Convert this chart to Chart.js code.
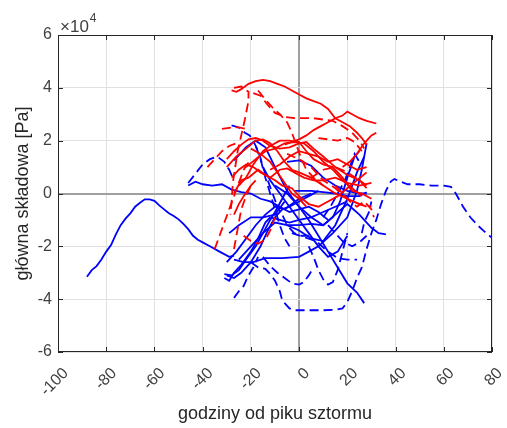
<!DOCTYPE html>
<html>
<head>
<meta charset="utf-8">
<script src="https://cdn.jsdelivr.net/npm/chart.js@4/dist/chart.umd.min.js"></script>
<style>
  html, body { margin: 0; padding: 0; background: #fff; }
</style>
</head>
<body>
<canvas id="chart" width="507" height="428"></canvas>
<script>
"use strict";

// axis ticks (x in hours, y in units of 10^4 Pa)
const xTicks = [-100, -80, -60, -40, -20, 0, 20, 40, 60, 80];
const yTicks = [-6, -4, -2, 0, 2, 4, 6];
const yExponent = 4;

// storm tracks, each one a list of [hour, value / 10^4 Pa]
const redSolid = [
    [[-28,3.9],[-26,3.85],[-24,3.95],[-21,4.15],[-18,4.25],[-15,4.3],[-12,4.25],[-9,4.15],[-6,4.05],[-3,3.9],[0,3.75],[3,3.6],[6,3.5],[9,3.4],[12,3.2],[15,2.85],[18,2.7],[21,2.55],[24,2.3],[26,2.1],[28,1.85]],
    [[-6,1.85],[-3,1.95],[0,2.05],[3,2.2],[6,2.4],[9,2.55],[12,2.7],[15,2.85],[18,2.95],[20,3.1],[22,3.0],[25,2.85],[28,2.75],[32,2.65]],
    [[18,1.0],[21,1.2],[24,1.5],[27,1.9],[30,2.2],[32,2.3]],
    [[-30,1.3],[-27,1.6],[-24,1.85],[-21,2.05],[-18,2.1],[-15,2.0],[-12,1.8],[-8,1.7],[-4,1.75],[0,1.9],[3,1.95],[6,1.7],[10,1.4],[15,1.0],[20,0.7],[25,0.5],[28,0.3]],
    [[-30,1.0],[-26,1.4],[-22,1.7],[-18,2.0],[-15,2.05],[-12,1.9],[-9,1.6],[-6,1.2],[-3,0.9],[0,0.8],[5,0.6],[10,0.3],[15,0.0],[20,-0.2],[25,-0.4],[28,-0.5]],
    [[-28,0.6],[-25,0.9],[-22,1.1],[-19,1.0],[-16,0.8],[-12,0.6],[-8,0.9],[-5,0.95],[-2,0.8],[2,0.6],[6,0.5],[10,0.5],[15,0.6],[20,0.4],[25,0.3],[30,0.4]],
    [[-25,0.3],[-22,0.6],[-19,1.1],[-15,1.6],[-12,1.8],[-8,2.0],[-4,2.0],[0,1.95],[3,1.6],[6,1.3],[10,1.1],[14,1.0],[18,0.6],[22,0.1],[26,0.0],[30,-0.2]],
    [[-27,0.0],[-24,0.5],[-21,0.6],[-17,0.9],[-14,0.7],[-10,0.5],[-7,0.3],[-3,0.2],[0,-0.1],[4,-0.4],[8,-0.5],[12,-0.3],[16,-0.1],[20,0.2],[24,0.5],[28,0.8]],
    [[-12,0.9],[-8,1.1],[-4,1.4],[0,1.6],[4,1.5],[8,1.4],[12,1.2],[16,1.3],[20,1.1],[24,0.9],[28,1.0]],
    [[-20,1.7],[-16,1.5],[-12,1.2],[-9,0.8],[-6,0.4],[-3,0.0],[0,-0.2],[3,-0.5]],
    [[-27,-0.8],[-25,-0.4],[-23,-0.1],[-20,0.3],[-18,0.5]],
    [[-22,1.0],[-18,1.3],[-14,1.6],[-10,1.7],[-6,1.9],[-2,1.95],[2,1.9],[6,1.6],[10,1.2],[14,0.9],[18,0.5],[22,0.2],[26,-0.1]]
];

const redDashed = [
    [[-32,2.45],[-28,2.5],[-25,2.5],[-22,2.45]],
    [[-27,4.0],[-24,4.05],[-21,3.85],[-21,3.5],[-22.5,2.8],[-24,2.2],[-25.5,1.6],[-26.5,1.0],[-27.5,0.4],[-28,-0.3],[-28.5,-0.8]],
    [[-17,3.9],[-14,3.55],[-11,3.25],[-8,3.0],[-5,2.7],[-3,2.3],[-1,1.8],[1,1.3],[3,0.9],[6,0.6],[10,0.3]],
    [[-19,3.8],[-16,3.7],[-13,3.35],[-10,3.05],[-6,2.9],[-2,2.85],[2,2.85],[6,2.85],[10,2.8],[14,2.75],[18,2.55],[22,2.3],[25,2.0],[27,1.7]],
    [[-35,-2.1],[-33,-1.6],[-31,-1.1],[-29,-0.6],[-27,-0.1],[-25,0.4],[-23,0.9],[-20,1.3]],
    [[-27,-2.1],[-26,-1.6],[-25,-1.1],[-24,-0.6],[-22,-0.1],[-20,0.3]],
    [[-23,-1.6],[-20,-1.8],[-17,-1.9],[-14,-1.75],[-12,-1.4],[-10,-0.9]],
    [[5,0.6],[10,0.9],[15,1.0],[20,0.8],[25,0.5],[28,0.2]],
    [[-5,1.5],[0,1.3],[5,1.0],[10,0.5],[15,0.2],[20,-0.2],[25,-0.4],[30,-0.5]],
    [[8,2.1],[12,2.05],[16,2.0],[20,2.1],[23,1.95],[26,1.6]],
    [[-38,1.0],[-35,1.3],[-32,1.6],[-29,1.8],[-26,1.9]],
    [[15,0.3],[18,0.0],[21,-0.3],[24,-0.5],[27,-0.3],[30,-0.6],[31,-0.9]]
];

const blueSolid = [
    [[-88,-3.15],[-86,-2.9],[-84,-2.75],[-82,-2.5],[-80,-2.2],[-78,-1.95],[-76,-1.55],[-74,-1.2],[-72,-0.95],[-70,-0.75],[-68,-0.5],[-66,-0.35],[-64,-0.22],[-62,-0.22],[-60,-0.28],[-58,-0.45],[-56,-0.6],[-54,-0.75],[-52,-0.85],[-50,-0.98],[-48,-1.15],[-46,-1.35],[-44,-1.6],[-42,-1.75],[-40,-1.85],[-37,-2.0],[-33,-2.2],[-29,-2.4],[-27,-2.35]],
    [[-46,0.3],[-43,0.45],[-40,0.35],[-36,0.3],[-32,0.35],[-28,0.15],[-24,0.05],[-20,0.0],[-16,-0.2],[-12,-0.3],[-8,-0.5],[-4,-0.7],[0,-0.6],[4,-0.5],[8,-0.7],[12,-1.0]],
    [[-27,-2.5],[-23,-2.6],[-19,-2.6],[-14,-2.45],[-7,-2.45],[0,-2.4],[4,-2.2],[8,-2.0],[14,-1.5],[20,-0.9],[24,0.1],[26,0.9],[28,1.9]],
    [[-27,1.25],[-22,1.75],[-18,2.0],[-14,1.75],[-10,1.0],[-5,0.1],[0,-0.5],[4,-1.0],[8,-1.6],[12,-2.2],[16,-2.8],[20,-3.4],[24,-3.75],[27,-4.15]],
    [[-30,-3.1],[-27,-3.2],[-24,-3.0],[-20,-2.6],[-16,-2.0],[-13,-1.4],[-10,-0.9],[-7,-0.6],[-4,-0.5],[0,-0.3],[4,-0.1],[8,0.1]],
    [[-31,-3.05],[-28,-3.1],[-25,-2.9],[-22,-2.5],[-18,-2.0],[-15,-1.5],[-12,-1.0],[-10,-0.7],[-7,-0.2],[-4,0.3]],
    [[-30,-2.6],[-26,-2.2],[-22,-1.7],[-18,-1.2],[-14,-0.8],[-10,-0.5],[-6,-0.6],[-3,-0.4],[0,-0.2],[5,0.0]],
    [[-5,1.2],[0,1.25],[5,1.05],[10,0.6],[15,0.3],[20,0.1],[25,0.0],[28,0.0]],
    [[-2,0.1],[5,0.1],[10,0.05],[15,0.0],[20,-0.1],[25,-0.1],[28,0.05]],
    [[-10,0.3],[-5,0.0],[0,-0.5],[5,-0.9],[10,-1.2],[15,-0.8],[20,-0.4],[25,-0.8],[30,-1.3],[33,-1.5],[36,-1.55]],
    [[-5,-1.2],[0,-1.2],[5,-1.15],[10,-1.2],[14,-0.9],[17,-0.3],[20,0.6],[23,1.4],[25,1.6]],
    [[-25,-2.5],[-20,-2.0],[-15,-1.5],[-10,-1.1],[-5,-1.2],[0,-1.4],[5,-1.7],[10,-1.8],[15,-1.2],[20,-0.2],[24,0.8],[27,1.4]],
    [[-29,-1.5],[-25,-1.2],[-20,-0.9],[-15,-0.9],[-10,-0.8],[-6,-0.3]],
    [[-15,1.0],[-12,0.5],[-8,0.0],[-4,-0.5],[0,-1.0],[4,-1.5],[8,-2.0],[12,-2.4],[16,-2.2],[20,-1.6]],
    [[-31,-3.2],[-29,-3.3],[-27,-3.0],[-24,-2.7],[-20,-2.2],[-17,-1.7],[-14,-1.1],[-12,-0.9]],
    [[-12,-0.9],[-8,-1.0],[-4,-1.1],[0,-1.0],[5,-0.9],[10,-0.7],[15,-0.5],[20,-0.3]]
];

const blueDashed = [
    [[-20,-2.6],[-17,-2.8],[-14,-2.85],[-12,-3.05],[-10,-3.3],[-8,-3.7],[-7,-4.05],[-4,-4.35],[-2,-4.42],[5,-4.42],[10,-4.42],[15,-4.4],[18,-4.35],[20,-4.1],[22,-3.7],[24,-3.2],[26,-2.8],[28,-2.1],[30,-1.5],[32,-1.0],[34,-0.4],[36,0.1],[38,0.45],[39.5,0.55],[42,0.45],[45,0.35],[50,0.35],[55,0.3],[60,0.3],[63,0.25],[65,0.0],[68,-0.5],[71,-0.9],[74,-1.2],[77,-1.45],[80,-1.68]],
    [[-46,0.4],[-43,0.75],[-40,1.1],[-37,1.3],[-34,1.4],[-31,1.2],[-29,0.9],[-27,0.5]],
    [[-28,2.58],[-25,2.5],[-22.5,2.3],[-20.5,2.2],[-18.5,1.9],[-16.5,1.5],[-15,1.0],[-13,0.5],[-11,0.0],[-9,-0.5]],
    [[-27,-3.95],[-25,-3.7],[-23,-3.5],[-21,-3.1],[-19,-2.8],[-17,-2.4]],
    [[-15,-2.4],[-12,-2.75],[-9,-3.0],[-6,-3.2],[-3,-3.4],[0,-3.45],[2,-3.35],[4,-3.1],[6,-2.8]],
    [[4,-2.0],[6,-2.4],[8,-2.9],[10,-3.25],[12,-3.45],[14,-3.35],[16,-2.9],[18,-2.2],[20,-1.5]],
    [[-3,-1.5],[2,-1.65],[7,-1.8],[12,-2.2],[16,-2.45],[20,-2.5],[24,-2.5]],
    [[12,-1.2],[15,-1.5],[18,-1.8],[22,-2.0],[25,-1.85],[28,-1.6]],
    [[26,-1.5],[27,-1.1],[29,-0.7],[30,-0.3]],
    [[-10,-0.4],[-7,-0.8],[-5,-1.2],[-2,-1.5],[1,-1.6],[4,-1.6]],
    [[-18,1.8],[-16,1.3],[-14,0.6],[-12,0.0],[-10,-0.6],[-8,-1.2],[-6,-1.7],[-4,-2.0]],
    [[10,-0.9],[13,-0.5],[16,0.0],[19,0.5],[21,1.0],[23,1.5],[25,1.2]]
];

const FONT = "'Liberation Sans', Arial, sans-serif";

function makeSet(points, color, dashed) {
    return {
        data: points.map(p => ({x: p[0], y: p[1]})),
        borderColor: color,
        borderWidth: 1.8,
        borderDash: dashed ? [9, 5] : [],
        pointRadius: 0,
        fill: false,
        tension: 0
    };
}

let datasets = [];
redSolid.forEach(p => datasets.push(makeSet(p, "#ff0000", false)));
redDashed.forEach(p => datasets.push(makeSet(p, "#ff0000", true)));
blueSolid.forEach(p => datasets.push(makeSet(p, "#0000ff", false)));
blueDashed.forEach(p => datasets.push(makeSet(p, "#0000ff", true)));

// matlab style box, inward ticks and the x10^4 multiplier
const frame = {
    id: "frame",
    afterDraw(chart) {
        const ctx = chart.ctx;
        const a = chart.chartArea;
        const xs = chart.scales.x, ys = chart.scales.y;
        ctx.save();
        ctx.strokeStyle = "#262626";
        ctx.lineWidth = 1;
        ctx.strokeRect(a.left + 0.5, a.top + 0.5, a.right - a.left - 1, a.bottom - a.top - 1);
        ctx.beginPath();
        xTicks.forEach(v => {
            let px = Math.round(xs.getPixelForValue(v)) + 0.5;
            ctx.moveTo(px, a.bottom); ctx.lineTo(px, a.bottom - 5);
            ctx.moveTo(px, a.top); ctx.lineTo(px, a.top + 5);
        });
        yTicks.forEach(v => {
            let py = Math.round(ys.getPixelForValue(v)) + 0.5;
            ctx.moveTo(a.left, py); ctx.lineTo(a.left + 5, py);
            ctx.moveTo(a.right, py); ctx.lineTo(a.right - 5, py);
        });
        ctx.stroke();

        ctx.fillStyle = "#404040";
        ctx.textBaseline = "alphabetic";
        ctx.font = "17px " + FONT;
        ctx.fillText("\u00d710", a.left + 2, a.top - 3);
        let w = ctx.measureText("\u00d710").width;
        ctx.font = "12px " + FONT;
        ctx.fillText(String(yExponent), a.left + 2 + w + 1, a.top - 13);
        ctx.restore();
    }
};

const chart = new Chart(document.getElementById("chart"), {
    type: "line",
    data: { datasets: datasets },
    options: {
        responsive: false,
        animation: false,
        layout: { padding: { left: 0, top: 35, right: 15, bottom: 0 } },
        plugins: { legend: { display: false }, tooltip: { enabled: false } },
        scales: {
            x: {
                type: "linear",
                min: -100,
                max: 80,
                afterBuildTicks: s => { s.ticks = xTicks.map(v => ({value: v})); },
                afterFit: s => { s.height = 76; s.paddingLeft = 0; s.paddingRight = 0; },
                grid: {
                    drawTicks: false,
                    color: c => c.tick && c.tick.value === 0 ? "#a0a0a0" : "#e0e0e0",
                    lineWidth: c => c.tick && c.tick.value === 0 ? 2 : 1
                },
                border: { display: false },
                ticks: {
                    minRotation: 45,
                    maxRotation: 45,
                    padding: 12,
                    labelOffset: 8,
                    color: "#404040",
                    font: { family: FONT, size: 16 }
                },
                title: {
                    display: true,
                    text: "godziny od piku sztormu",
                    color: "#262626",
                    font: { family: FONT, size: 18 },
                    padding: { top: 0, bottom: 3 }
                }
            },
            y: {
                min: -6,
                max: 6,
                afterBuildTicks: s => { s.ticks = yTicks.map(v => ({value: v})); },
                afterFit: s => { s.width = 58; s.paddingTop = 0; s.paddingBottom = 0; },
                grid: {
                    drawTicks: false,
                    color: c => c.tick && c.tick.value === 0 ? "#a0a0a0" : "#e0e0e0",
                    lineWidth: c => c.tick && c.tick.value === 0 ? 2 : 1
                },
                border: { display: false },
                ticks: {
                    padding: 6,
                    color: "#404040",
                    font: { family: FONT, size: 16 }
                },
                title: {
                    display: true,
                    text: "główna składowa [Pa]",
                    color: "#262626",
                    font: { family: FONT, size: 18 },
                    padding: { top: 12, bottom: 0 }
                }
            }
        }
    },
    plugins: [frame]
});
</script>
</body>
</html>
